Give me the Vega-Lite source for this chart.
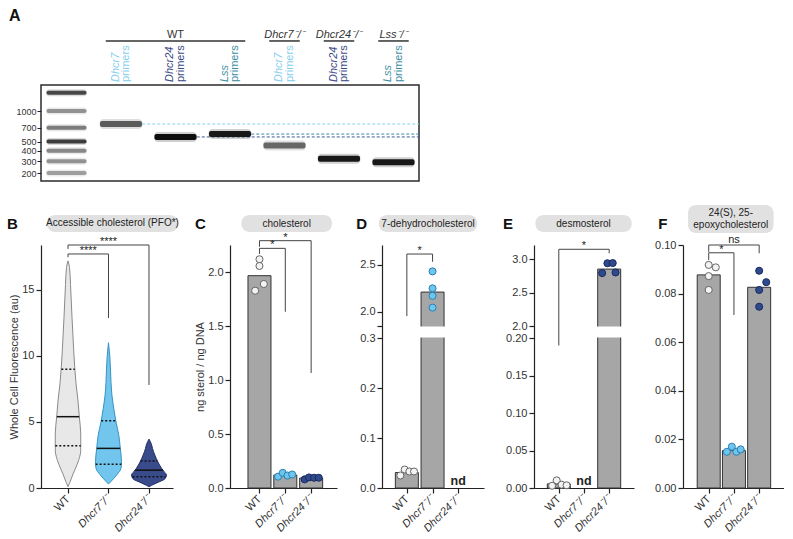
{
  "$schema": "https://vega.github.io/schema/vega-lite/v6.json",
  "padding": {"left": 7, "top": 0, "right": 0, "bottom": 0},
  "autosize": {"type": "pad"},
  "background": "white",
  "config": {
    "font": "Liberation Sans",
    "view": {"stroke": null},
    "axis": {
      "grid": false, "domainColor": "#222", "domainWidth": 1.2, "tickColor": "#222", "tickWidth": 1.2, "tickSize": 5,
      "labelFont": "Liberation Sans", "labelFontSize": 11, "labelColor": "#333", "labelPadding": 2,
      "labelFlush": false,
      "titleFont": "Liberation Sans", "titleFontSize": 11, "titleFontWeight": "normal", "titleColor": "#333"
    },
    "text": {"font": "Liberation Sans"}
  },
  "datasets": {
    "panels": [
      {"panel": "A"},
      {"panel": "B", "title": "Accessible cholesterol (PFO*)"},
      {"panel": "C", "title": "cholesterol"},
      {"panel": "D", "title": "7-dehydrocholesterol"},
      {"panel": "E", "title": "desmosterol"},
      {"panel": "F", "title": "24(S), 25-\nepoxycholesterol"}
    ],
    "genotypes": [
      {"geno": "WT", "first": 1, "last": 3, "ko": false},
      {"geno": "Dhcr7⁻/⁻", "first": 4, "last": 4, "ko": true},
      {"geno": "Dhcr24⁻/⁻", "first": 5, "last": 5, "ko": true},
      {"geno": "Lss⁻/⁻", "first": 6, "last": 6, "ko": true}
    ],
    "primers": [
      {"lane": 1, "gene": "Dhcr7"}, {"lane": 2, "gene": "Dhcr24"}, {"lane": 3, "gene": "Lss"},
      {"lane": 4, "gene": "Dhcr7"}, {"lane": 5, "gene": "Dhcr24"}, {"lane": 6, "gene": "Lss"}
    ],
    "gel": [
      {"lane": 0, "bp": 1500, "intensity": 0.7},
      {"lane": 0, "bp": 1000, "intensity": 0.35},
      {"lane": 0, "bp": 700, "intensity": 0.45},
      {"lane": 0, "bp": 500, "intensity": 0.75},
      {"lane": 0, "bp": 400, "intensity": 0.4},
      {"lane": 0, "bp": 300, "intensity": 0.35},
      {"lane": 0, "bp": 200, "intensity": 0.3},
      {"lane": 1, "bp": 766, "intensity": 0.6},
      {"lane": 2, "bp": 566, "intensity": 1.0},
      {"lane": 3, "bp": 608, "intensity": 0.95},
      {"lane": 4, "bp": 457, "intensity": 0.55},
      {"lane": 5, "bp": 325, "intensity": 0.95},
      {"lane": 6, "bp": 291, "intensity": 0.95}
    ],
    "violin": [
      {"geno": "WT", "v": 0.1, "hw": 0}, {"geno": "WT", "v": 0.4, "hw": 0.042}, {"geno": "WT", "v": 1.05, "hw": 0.123},
      {"geno": "WT", "v": 1.8, "hw": 0.227}, {"geno": "WT", "v": 2.85, "hw": 0.314}, {"geno": "WT", "v": 4.1, "hw": 0.314},
      {"geno": "WT", "v": 5.4, "hw": 0.279}, {"geno": "WT", "v": 6.6, "hw": 0.247}, {"geno": "WT", "v": 7.9, "hw": 0.198},
      {"geno": "WT", "v": 10.4, "hw": 0.141}, {"geno": "WT", "v": 12.9, "hw": 0.099}, {"geno": "WT", "v": 15.4, "hw": 0.062},
      {"geno": "WT", "v": 16.7, "hw": 0.037}, {"geno": "WT", "v": 17.2, "hw": 0},
      {"geno": "Dhcr7-/-", "v": 0.3, "hw": 0}, {"geno": "Dhcr7-/-", "v": 0.5, "hw": 0.062}, {"geno": "Dhcr7-/-", "v": 1.0, "hw": 0.205},
      {"geno": "Dhcr7-/-", "v": 1.5, "hw": 0.309}, {"geno": "Dhcr7-/-", "v": 2.0, "hw": 0.321}, {"geno": "Dhcr7-/-", "v": 3.0, "hw": 0.291},
      {"geno": "Dhcr7-/-", "v": 4.0, "hw": 0.254}, {"geno": "Dhcr7-/-", "v": 5.0, "hw": 0.185}, {"geno": "Dhcr7-/-", "v": 6.0, "hw": 0.131},
      {"geno": "Dhcr7-/-", "v": 7.0, "hw": 0.086}, {"geno": "Dhcr7-/-", "v": 8.0, "hw": 0.062}, {"geno": "Dhcr7-/-", "v": 9.0, "hw": 0.049},
      {"geno": "Dhcr7-/-", "v": 10.0, "hw": 0.032}, {"geno": "Dhcr7-/-", "v": 11.0, "hw": 0},
      {"geno": "Dhcr24-/-", "v": 0.1, "hw": 0}, {"geno": "Dhcr24-/-", "v": 0.2, "hw": 0.062}, {"geno": "Dhcr24-/-", "v": 0.4, "hw": 0.198},
      {"geno": "Dhcr24-/-", "v": 0.7, "hw": 0.395}, {"geno": "Dhcr24-/-", "v": 1.0, "hw": 0.432}, {"geno": "Dhcr24-/-", "v": 1.2, "hw": 0.383},
      {"geno": "Dhcr24-/-", "v": 1.5, "hw": 0.309}, {"geno": "Dhcr24-/-", "v": 2.0, "hw": 0.215}, {"geno": "Dhcr24-/-", "v": 2.5, "hw": 0.143},
      {"geno": "Dhcr24-/-", "v": 3.0, "hw": 0.086}, {"geno": "Dhcr24-/-", "v": 3.3, "hw": 0.062}, {"geno": "Dhcr24-/-", "v": 3.7, "hw": 0}
    ],
    "quartiles": [
      {"geno": "WT", "stat": "q3", "v": 9.0, "hw": 0.165},
      {"geno": "WT", "stat": "median", "v": 5.4, "hw": 0.279},
      {"geno": "WT", "stat": "q1", "v": 3.2, "hw": 0.314},
      {"geno": "Dhcr7-/-", "stat": "q3", "v": 5.1, "hw": 0.18},
      {"geno": "Dhcr7-/-", "stat": "median", "v": 3.0, "hw": 0.291},
      {"geno": "Dhcr7-/-", "stat": "q1", "v": 1.8, "hw": 0.318},
      {"geno": "Dhcr24-/-", "stat": "q3", "v": 2.05, "hw": 0.208},
      {"geno": "Dhcr24-/-", "stat": "median", "v": 1.35, "hw": 0.34},
      {"geno": "Dhcr24-/-", "stat": "q1", "v": 0.85, "hw": 0.41}
    ],
    "brackets": [
      {"panel": "B", "from": "WT", "to": "Dhcr7-/-", "y": 17.72, "e1": 17.47, "e2": 12.87, "label": "****"},
      {"panel": "B", "from": "WT", "to": "Dhcr24-/-", "y": 18.4, "e1": 18.1, "e2": 7.8, "label": "****"},
      {"panel": "C", "from": "WT", "to": "Dhcr7-/-", "y": 2.219, "e1": 2.167, "e2": 1.632, "label": "*"},
      {"panel": "C", "from": "WT", "to": "Dhcr24-/-", "y": 2.29, "e1": 2.234, "e2": 1.065, "label": "*"},
      {"panel": "D", "from": "WT", "to": "Dhcr7-/-", "y": 2.614, "e1": 1.955, "e2": 2.532, "label": "*"},
      {"panel": "E", "from": "WT", "to": "Dhcr24-/-", "y": 3.146, "e1": 0.19, "e2": 3.086, "label": "*"},
      {"panel": "F", "from": "WT", "to": "Dhcr24-/-", "y": 0.1, "e1": 0.0972, "e2": 0.0966, "label": "ns"},
      {"panel": "F", "from": "WT", "to": "Dhcr7-/-", "y": 0.0968, "e1": 0.0938, "e2": 0.0712, "label": "*"}
    ],
    "bars": [
      {"panel": "C", "geno": "WT", "value": 1.966}, {"panel": "C", "geno": "Dhcr7-/-", "value": 0.12}, {"panel": "C", "geno": "Dhcr24-/-", "value": 0.092},
      {"panel": "D", "geno": "WT", "value": 0.031}, {"panel": "D", "geno": "Dhcr7-/-", "value": 2.21},
      {"panel": "E", "geno": "WT", "value": 0.0055}, {"panel": "E", "geno": "Dhcr24-/-", "value": 2.85},
      {"panel": "F", "geno": "WT", "value": 0.0877}, {"panel": "F", "geno": "Dhcr7-/-", "value": 0.0154}, {"panel": "F", "geno": "Dhcr24-/-", "value": 0.0826}
    ],
    "points": [
      {"panel": "C", "geno": "WT", "value": 2.118, "jit": 0}, {"panel": "C", "geno": "WT", "value": 2.056, "jit": 0},
      {"panel": "C", "geno": "WT", "value": 1.889, "jit": 0.6}, {"panel": "C", "geno": "WT", "value": 1.827, "jit": -0.6},
      {"panel": "C", "geno": "Dhcr7-/-", "value": 0.105, "jit": -1}, {"panel": "C", "geno": "Dhcr7-/-", "value": 0.14, "jit": -0.35},
      {"panel": "C", "geno": "Dhcr7-/-", "value": 0.115, "jit": 0.3}, {"panel": "C", "geno": "Dhcr7-/-", "value": 0.125, "jit": 0.95},
      {"panel": "C", "geno": "Dhcr24-/-", "value": 0.08, "jit": -0.9}, {"panel": "C", "geno": "Dhcr24-/-", "value": 0.098, "jit": -0.3},
      {"panel": "C", "geno": "Dhcr24-/-", "value": 0.095, "jit": 0.4}, {"panel": "C", "geno": "Dhcr24-/-", "value": 0.095, "jit": 1.05},
      {"panel": "D", "geno": "WT", "value": 0.025, "jit": -0.9}, {"panel": "D", "geno": "WT", "value": 0.037, "jit": -0.3},
      {"panel": "D", "geno": "WT", "value": 0.033, "jit": 0.35}, {"panel": "D", "geno": "WT", "value": 0.033, "jit": 1.0},
      {"panel": "D", "geno": "Dhcr7-/-", "value": 2.43, "jit": 0}, {"panel": "D", "geno": "Dhcr7-/-", "value": 2.25, "jit": 0},
      {"panel": "D", "geno": "Dhcr7-/-", "value": 2.17, "jit": 0}, {"panel": "D", "geno": "Dhcr7-/-", "value": 2.045, "jit": 0},
      {"panel": "E", "geno": "WT", "value": 0.003, "jit": -0.95}, {"panel": "E", "geno": "WT", "value": 0.0102, "jit": -0.3},
      {"panel": "E", "geno": "WT", "value": 0.0044, "jit": 0.4}, {"panel": "E", "geno": "WT", "value": 0.0036, "jit": 1.1},
      {"panel": "E", "geno": "Dhcr24-/-", "value": 2.937, "jit": -0.25}, {"panel": "E", "geno": "Dhcr24-/-", "value": 2.94, "jit": 0.5},
      {"panel": "E", "geno": "Dhcr24-/-", "value": 2.79, "jit": -1.0}, {"panel": "E", "geno": "Dhcr24-/-", "value": 2.8, "jit": 0.9},
      {"panel": "F", "geno": "WT", "value": 0.0918, "jit": 0}, {"panel": "F", "geno": "WT", "value": 0.0908, "jit": 1.0},
      {"panel": "F", "geno": "WT", "value": 0.0872, "jit": 0}, {"panel": "F", "geno": "WT", "value": 0.0815, "jit": 0},
      {"panel": "F", "geno": "Dhcr7-/-", "value": 0.0149, "jit": -1.0}, {"panel": "F", "geno": "Dhcr7-/-", "value": 0.017, "jit": -0.3},
      {"panel": "F", "geno": "Dhcr7-/-", "value": 0.0149, "jit": 0.35}, {"panel": "F", "geno": "Dhcr7-/-", "value": 0.0159, "jit": 0.95},
      {"panel": "F", "geno": "Dhcr24-/-", "value": 0.0894, "jit": 0}, {"panel": "F", "geno": "Dhcr24-/-", "value": 0.0847, "jit": 1.0},
      {"panel": "F", "geno": "Dhcr24-/-", "value": 0.0815, "jit": 0}, {"panel": "F", "geno": "Dhcr24-/-", "value": 0.0746, "jit": 0}
    ],
    "nd": [
      {"panel": "D", "geno": "Dhcr24-/-", "label": "nd"},
      {"panel": "E", "geno": "Dhcr7-/-", "label": "nd"}
    ]
  },
  "spacing": 0,
  "align": "none",
  "bounds": "flush",
  "resolve": {"scale": {"color": "independent", "fill": "independent", "stroke": "independent"}},
  "vconcat": [
    {
      "width": 378, "height": 85,
      "layer": [
        {
          "data": {"name": "panels"}, "transform": [{"filter": "datum.panel == 'A'"}],
          "mark": {"type": "text", "fontSize": 16, "fontWeight": "bold", "align": "left", "baseline": "alphabetic", "color": "#111"},
          "encoding": {
            "x": {"datum": -1.055, "type": "quantitative", "scale": {"domain": [-0.468, 6.468], "nice": false, "zero": false}, "axis": null},
            "y": {"datum": 0.753, "type": "quantitative", "scale": {"domain": [0, 1], "nice": false, "zero": false}, "axis": null},
            "text": {"field": "panel"}
          }
        },
        {
          "data": {"name": "genotypes"},
          "transform": [
            {"calculate": "(datum.first + datum.last) / 2", "as": "mid"},
            {"calculate": "datum.first - 0.28", "as": "lo"},
            {"calculate": "datum.last + 0.28", "as": "hi"}
          ],
          "layer": [
            {
              "mark": {"type": "rule", "color": "#333", "strokeWidth": 1.5},
              "encoding": {
                "x": {"field": "lo", "type": "quantitative", "axis": null},
                "x2": {"field": "hi"},
                "y": {"datum": 0.518, "type": "quantitative", "axis": null}
              }
            },
            {
              "transform": [{"filter": "!datum.ko"}],
              "mark": {"type": "text", "fontSize": 11, "baseline": "alphabetic", "color": "#333"},
              "encoding": {
                "x": {"field": "mid", "type": "quantitative", "axis": null},
                "y": {"datum": 0.556, "type": "quantitative", "axis": null},
                "text": {"field": "geno"}
              }
            },
            {
              "transform": [{"filter": "datum.ko"}],
              "mark": {"type": "text", "fontSize": 11, "fontStyle": "italic", "baseline": "alphabetic", "color": "#333"},
              "encoding": {
                "x": {"field": "mid", "type": "quantitative", "axis": null},
                "y": {"datum": 0.556, "type": "quantitative", "axis": null},
                "text": {"field": "geno"}
              }
            }
          ]
        },
        {
          "data": {"name": "primers"},
          "transform": [
            {"calculate": "datum.lane - 0.1", "as": "gx"},
            {"calculate": "datum.lane + 0.1", "as": "px"}
          ],
          "layer": [
            {
              "mark": {"type": "text", "fontSize": 11, "fontStyle": "italic", "angle": 270, "align": "left", "baseline": "middle"},
              "encoding": {
                "x": {"field": "gx", "type": "quantitative", "axis": null},
                "y": {"datum": 0.035, "type": "quantitative", "axis": null},
                "text": {"field": "gene"},
                "color": {"field": "gene", "type": "nominal", "scale": {"domain": ["Dhcr7", "Dhcr24", "Lss"], "range": ["#86cfee", "#3b4a86", "#3a8ea1"]}, "legend": null}
              }
            },
            {
              "mark": {"type": "text", "fontSize": 11, "angle": 270, "align": "left", "baseline": "middle"},
              "encoding": {
                "x": {"field": "px", "type": "quantitative", "axis": null},
                "y": {"datum": 0.035, "type": "quantitative", "axis": null},
                "text": {"value": "primers"},
                "color": {"field": "gene", "type": "nominal", "scale": {"domain": ["Dhcr7", "Dhcr24", "Lss"], "range": ["#86cfee", "#3b4a86", "#3a8ea1"]}, "legend": null}
              }
            }
          ]
        }
      ]
    },
    {
      "width": 378, "height": 96,
      "view": {"stroke": "#2b2b2b", "strokeWidth": 1.5},
      "data": {"name": "gel"},
      "layer": [
        {
          "transform": [{"filter": "datum.lane >= 1 && datum.lane <= 3"}, {"calculate": "datum.lane + 0.39", "as": "x0"}],
          "mark": {"type": "rule", "strokeDash": [3, 2], "strokeWidth": 1},
          "encoding": {
            "x": {"field": "x0", "type": "quantitative", "scale": {"domain": [-0.468, 6.468], "nice": false, "zero": false}, "axis": null},
            "x2": {"datum": 6.468},
            "y": {"field": "bp", "type": "quantitative",
                  "scale": {"type": "linear", "domain": [150, 200, 300, 400, 500, 700, 1000, 1500, 2000], "range": [96, 88, 76.3, 65.8, 56.5, 42.7, 26, 7.7, 0], "nice": false, "zero": false},
                  "axis": {"values": [200, 300, 400, 500, 700, 1000], "format": "d", "tickCount": 20, "domain": false, "tickSize": 4, "tickWidth": 1, "labelPadding": 1, "title": null, "labelFontSize": 9, "labelOverlap": false, "labelBound": false}},
            "stroke": {"field": "lane", "type": "nominal", "scale": {"domain": [1, 2, 3], "range": ["#86cfee", "#3d5b93", "#3f86a6"]}, "legend": null}
          }
        },
        {
          "transform": [{"filter": "datum.lane == 0"}],
          "mark": {"type": "tick", "orient": "horizontal", "size": 41, "thickness": 7, "opacity": 0.2, "cornerRadius": 3},
          "encoding": {
            "x": {"field": "lane", "type": "quantitative"},
            "y": {"field": "bp", "type": "quantitative"},
            "color": {"field": "intensity", "type": "quantitative", "scale": {"domain": [0, 1], "range": ["#e6e6e6", "#0d0d0d"]}, "legend": null}
          }
        },
        {
          "transform": [{"filter": "datum.lane == 0"}],
          "mark": {"type": "tick", "orient": "horizontal", "size": 40, "thickness": 4, "opacity": 1, "cornerRadius": 2},
          "encoding": {
            "x": {"field": "lane", "type": "quantitative"},
            "y": {"field": "bp", "type": "quantitative"},
            "color": {"field": "intensity", "type": "quantitative", "legend": null}
          }
        },
        {
          "transform": [{"filter": "datum.lane > 0"}],
          "mark": {"type": "tick", "orient": "horizontal", "size": 43, "thickness": 10, "opacity": 0.2, "cornerRadius": 4},
          "encoding": {
            "x": {"field": "lane", "type": "quantitative"},
            "y": {"field": "bp", "type": "quantitative"},
            "color": {"field": "intensity", "type": "quantitative", "legend": null}
          }
        },
        {
          "transform": [{"filter": "datum.lane > 0"}],
          "mark": {"type": "tick", "orient": "horizontal", "size": 42, "thickness": 6, "opacity": 1, "cornerRadius": 2},
          "encoding": {
            "x": {"field": "lane", "type": "quantitative"},
            "y": {"field": "bp", "type": "quantitative"},
            "color": {"field": "intensity", "type": "quantitative", "legend": null}
          }
        }
      ]
    },
    {"width": 1, "height": 64, "data": {"values": []}, "mark": "point"},
    {
      "spacing": 0,
      "align": "none",
      "bounds": "flush",
      "resolve": {"scale": {"color": "independent", "fill": "independent", "stroke": "independent"}},
      "hconcat": [
        {
          "width": 132, "height": 243,
          "layer": [
            {
              "data": {"name": "violin"},
              "transform": [
                {"calculate": "indexof(['WT','Dhcr7-/-','Dhcr24-/-'], datum.geno) + 1", "as": "g"},
                {"calculate": "datum.g - datum.hw", "as": "lo"},
                {"calculate": "datum.g + datum.hw", "as": "hi"}
              ],
              "mark": {"type": "area", "orient": "horizontal", "interpolate": "monotone", "strokeWidth": 1, "fillOpacity": 1, "opacity": 1},
              "encoding": {
                "y": {"field": "v", "type": "quantitative", "scale": {"domain": [0, 18.4], "nice": false, "zero": false},
                      "axis": {"values": [0, 5, 10, 15], "tickCount": 20, "title": "Whole Cell Fluorescence (au)", "titlePadding": 2, "labelOverlap": false}},
                "x": {"field": "lo", "type": "quantitative", "stack": null, "scale": {"domain": [0.333, 3.593], "nice": false, "zero": false},
                      "axis": {"values": [1, 2, 3], "tickCount": 20, "title": null, "labelAngle": -45, "labelAlign": "right", "labelBaseline": "middle", "labelPadding": 4, "labelOverlap": false,
                               "labelExpr": "datum.value == 1 ? 'WT' : datum.value == 2 ? 'Dhcr7⁻/⁻' : 'Dhcr24⁻/⁻'",
                               "labelFontStyle": {"condition": {"test": "datum.value == 1", "value": "normal"}, "value": "italic"}}},
                "x2": {"field": "hi"},
                "color": {"field": "geno", "type": "nominal", "scale": {"domain": ["WT", "Dhcr7-/-", "Dhcr24-/-"], "range": ["#e8e8e8", "#72c6ee", "#3a4b8c"]}, "legend": null},
                "stroke": {"field": "geno", "type": "nominal", "scale": {"domain": ["WT", "Dhcr7-/-", "Dhcr24-/-"], "range": ["#8a8a8a", "#3593c4", "#1d2b63"]}, "legend": null}
              }
            },
            {
              "data": {"name": "quartiles"},
              "transform": [
                {"calculate": "indexof(['WT','Dhcr7-/-','Dhcr24-/-'], datum.geno) + 1", "as": "g"},
                {"calculate": "datum.g - datum.hw", "as": "lo"},
                {"calculate": "datum.g + datum.hw", "as": "hi"}
              ],
              "layer": [
                {
                  "transform": [{"filter": "datum.stat == 'median'"}],
                  "mark": {"type": "rule", "color": "#111", "strokeWidth": 1.5},
                  "encoding": {"x": {"field": "lo", "type": "quantitative"}, "x2": {"field": "hi"}, "y": {"field": "v", "type": "quantitative"}}
                },
                {
                  "transform": [{"filter": "datum.stat != 'median'"}],
                  "mark": {"type": "rule", "color": "#111", "strokeWidth": 1.5, "strokeDash": [2, 2]},
                  "encoding": {"x": {"field": "lo", "type": "quantitative"}, "x2": {"field": "hi"}, "y": {"field": "v", "type": "quantitative"}}
                }
              ]
            },
            {
              "data": {"name": "brackets"},
              "transform": [
                {"filter": "datum.panel == 'B'"},
                {"calculate": "indexof(['WT','Dhcr7-/-','Dhcr24-/-'], datum.from) + 1", "as": "a"},
                {"calculate": "indexof(['WT','Dhcr7-/-','Dhcr24-/-'], datum.to) + 1", "as": "b"},
                {"calculate": "(datum.a + datum.b) / 2", "as": "m"}
              ],
              "layer": [
                {"mark": {"type": "rule", "color": "#444", "strokeWidth": 1}, "encoding": {"x": {"field": "a", "type": "quantitative"}, "x2": {"field": "b"}, "y": {"field": "y", "type": "quantitative"}}},
                {"mark": {"type": "rule", "color": "#444", "strokeWidth": 1}, "encoding": {"x": {"field": "a", "type": "quantitative"}, "y": {"field": "y", "type": "quantitative"}, "y2": {"field": "e1"}}},
                {"mark": {"type": "rule", "color": "#444", "strokeWidth": 1}, "encoding": {"x": {"field": "b", "type": "quantitative"}, "y": {"field": "y", "type": "quantitative"}, "y2": {"field": "e2"}}},
                {"mark": {"type": "text", "fontSize": 11, "baseline": "alphabetic", "color": "#222"}, "encoding": {"x": {"field": "m", "type": "quantitative"}, "y": {"field": "y", "type": "quantitative"}, "text": {"field": "label"}}}
              ]
            },
            {
              "data": {"name": "panels"},
              "transform": [{"filter": "datum.panel == 'B'"}],
              "layer": [
                {"mark": {"type": "rect", "cornerRadius": 8, "fill": "#e1e1e1"}, "encoding": {"x": {"datum": 0.481}, "x2": {"datum": 3.716}, "y": {"datum": 19.385}, "y2": {"datum": 20.67}}},
                {"mark": {"type": "text", "fontSize": 10, "color": "#222", "align": "center", "baseline": "middle"}, "encoding": {"x": {"datum": 2.098}, "y": {"datum": 20.03}, "text": {"field": "title"}}},
                {"mark": {"type": "text", "fontSize": 15, "fontWeight": "bold", "align": "left", "baseline": "alphabetic", "color": "#111"}, "encoding": {"x": {"datum": -0.5065}, "y": {"datum": 19.61}, "text": {"field": "panel"}}}
              ]
            }
          ]
        },
        {"width": 57, "height": 10, "data": {"values": []}, "mark": "point"},
        {
          "width": 107, "height": 243,
          "layer": [
            {
              "data": {"name": "bars"},
              "transform": [{"filter": "datum.panel == 'C'"}, {"calculate": "indexof(['WT','Dhcr7-/-','Dhcr24-/-'], datum.geno) + 1", "as": "g"}],
              "mark": {"type": "bar", "width": 23, "orient": "vertical", "fill": "#a6a6a6", "stroke": "#333", "strokeWidth": 1},
              "encoding": {
                "x": {"field": "g", "type": "quantitative", "scale": {"domain": [0.053, 3.807], "nice": false, "zero": false},
                      "axis": {"values": [1, 2, 3], "tickCount": 20, "title": null, "labelAngle": -45, "labelAlign": "right", "labelBaseline": "middle", "labelPadding": 4, "labelOverlap": false,
                               "labelExpr": "datum.value == 1 ? 'WT' : datum.value == 2 ? 'Dhcr7⁻/⁻' : 'Dhcr24⁻/⁻'",
                               "labelFontStyle": {"condition": {"test": "datum.value == 1", "value": "normal"}, "value": "italic"}}},
                "y": {"field": "value", "type": "quantitative", "scale": {"domain": [0, 2.25], "nice": false, "zero": false},
                      "axis": {"values": [0, 0.5, 1, 1.5, 2], "tickCount": 20, "format": ".1f", "title": "ng sterol / ng DNA", "titlePadding": 2, "labelOverlap": false}},
                "y2": {"datum": 0}
              }
            },
            {
              "data": {"name": "points"},
              "transform": [{"filter": "datum.panel == 'C'"}, {"calculate": "indexof(['WT','Dhcr7-/-','Dhcr24-/-'], datum.geno) + 1", "as": "g"}, {"calculate": "datum.g + datum.jit * 0.28", "as": "px"}],
              "mark": {"type": "circle", "size": 50, "strokeWidth": 1, "opacity": 1, "fillOpacity": 1},
              "encoding": {
                "x": {"field": "px", "type": "quantitative"},
                "y": {"field": "value", "type": "quantitative"},
                "fill": {"field": "geno", "type": "nominal", "scale": {"domain": ["WT", "Dhcr7-/-", "Dhcr24-/-"], "range": ["#f3f3f3", "#6cc6ee", "#2e4a8c"]}, "legend": null},
                "stroke": {"field": "geno", "type": "nominal", "scale": {"domain": ["WT", "Dhcr7-/-", "Dhcr24-/-"], "range": ["#666666", "#2f7fb0", "#1a2a5e"]}, "legend": null}
              }
            },
            {
              "data": {"name": "brackets"},
              "transform": [
                {"filter": "datum.panel == 'C'"},
                {"calculate": "indexof(['WT','Dhcr7-/-','Dhcr24-/-'], datum.from) + 1", "as": "a"},
                {"calculate": "indexof(['WT','Dhcr7-/-','Dhcr24-/-'], datum.to) + 1", "as": "b"},
                {"calculate": "(datum.a + datum.b) / 2", "as": "m"}
              ],
              "layer": [
                {"mark": {"type": "rule", "color": "#444", "strokeWidth": 1}, "encoding": {"x": {"field": "a", "type": "quantitative"}, "x2": {"field": "b"}, "y": {"field": "y", "type": "quantitative"}}},
                {"mark": {"type": "rule", "color": "#444", "strokeWidth": 1}, "encoding": {"x": {"field": "a", "type": "quantitative"}, "y": {"field": "y", "type": "quantitative"}, "y2": {"field": "e1"}}},
                {"mark": {"type": "rule", "color": "#444", "strokeWidth": 1}, "encoding": {"x": {"field": "b", "type": "quantitative"}, "y": {"field": "y", "type": "quantitative"}, "y2": {"field": "e2"}}},
                {"mark": {"type": "text", "fontSize": 11, "baseline": "alphabetic", "color": "#222"}, "encoding": {"x": {"field": "m", "type": "quantitative"}, "y": {"field": "y", "type": "quantitative"}, "text": {"field": "label"}}}
              ]
            },
            {
              "data": {"name": "panels"},
              "transform": [{"filter": "datum.panel == 'C'"}],
              "layer": [
                {"mark": {"type": "rect", "cornerRadius": 8, "fill": "#e1e1e1"}, "encoding": {"x": {"datum": 0.299}, "x2": {"datum": 3.807}, "y": {"datum": 2.37}, "y2": {"datum": 2.528}}},
                {"mark": {"type": "text", "fontSize": 10, "color": "#222", "align": "center", "baseline": "middle"}, "encoding": {"x": {"datum": 2.053}, "y": {"datum": 2.449}, "text": {"field": "title"}}},
                {"mark": {"type": "text", "fontSize": 15, "fontWeight": "bold", "align": "left", "baseline": "alphabetic", "color": "#111"}, "encoding": {"x": {"datum": -1.491}, "y": {"datum": 2.398}, "text": {"field": "panel"}}}
              ]
            }
          ]
        },
        {"width": 45, "height": 10, "data": {"values": []}, "mark": "point"},
        {
          "width": 102, "height": 243,
          "layer": [
            {
              "data": {"name": "bars"},
              "transform": [{"filter": "datum.panel == 'D'"}, {"calculate": "indexof(['WT','Dhcr7-/-','Dhcr24-/-'], datum.geno) + 1", "as": "g"}],
              "mark": {"type": "bar", "width": 23, "orient": "vertical", "fill": "#a6a6a6", "stroke": "#333", "strokeWidth": 1},
              "encoding": {
                "x": {"field": "g", "type": "quantitative", "scale": {"domain": [0.228, 3.807], "nice": false, "zero": false},
                      "axis": {"values": [1, 2, 3], "tickCount": 20, "title": null, "labelAngle": -45, "labelAlign": "right", "labelBaseline": "middle", "labelPadding": 4, "labelOverlap": false,
                               "labelExpr": "datum.value == 1 ? 'WT' : datum.value == 2 ? 'Dhcr7⁻/⁻' : 'Dhcr24⁻/⁻'",
                               "labelFontStyle": {"condition": {"test": "datum.value == 1", "value": "normal"}, "value": "italic"}}},
                "y": {"field": "value", "type": "quantitative",
                      "scale": {"type": "linear", "domain": [0, 0.3, 1.85, 2.71], "range": [243, 93, 81, 0], "nice": false, "zero": false},
                      "axis": {"values": [0, 0.1, 0.2, 0.3, 1.85, 2, 2.5], "tickCount": 20, "labelExpr": "datum.value == 1.85 ? '' : format(datum.value, '.1f')", "title": null, "labelOverlap": false}},
                "y2": {"datum": 0}
              }
            },
            {
              "data": {"name": "panels"},
              "transform": [{"filter": "datum.panel == 'D'"}],
              "mark": {"type": "rect", "fill": "white"},
              "encoding": {"x": {"datum": 0.12}, "x2": {"datum": 3.9}, "y": {"datum": 0.37}, "y2": {"datum": 1.78}}
            },
            {
              "data": {"name": "points"},
              "transform": [{"filter": "datum.panel == 'D'"}, {"calculate": "indexof(['WT','Dhcr7-/-','Dhcr24-/-'], datum.geno) + 1", "as": "g"}, {"calculate": "datum.g + datum.jit * 0.28", "as": "px"}],
              "mark": {"type": "circle", "size": 50, "strokeWidth": 1, "opacity": 1, "fillOpacity": 1},
              "encoding": {
                "x": {"field": "px", "type": "quantitative"},
                "y": {"field": "value", "type": "quantitative"},
                "fill": {"field": "geno", "type": "nominal", "scale": {"domain": ["WT", "Dhcr7-/-", "Dhcr24-/-"], "range": ["#f3f3f3", "#6cc6ee", "#2e4a8c"]}, "legend": null},
                "stroke": {"field": "geno", "type": "nominal", "scale": {"domain": ["WT", "Dhcr7-/-", "Dhcr24-/-"], "range": ["#666666", "#2f7fb0", "#1a2a5e"]}, "legend": null}
              }
            },
            {
              "data": {"name": "nd"},
              "transform": [{"filter": "datum.panel == 'D'"}, {"calculate": "indexof(['WT','Dhcr7-/-','Dhcr24-/-'], datum.geno) + 1", "as": "g"}],
              "mark": {"type": "text", "fontSize": 12.5, "fontWeight": "bold", "baseline": "alphabetic", "dy": -3, "color": "#222"},
              "encoding": {"x": {"field": "g", "type": "quantitative"}, "y": {"datum": 0}, "text": {"field": "label"}}
            },
            {
              "data": {"name": "brackets"},
              "transform": [
                {"filter": "datum.panel == 'D'"},
                {"calculate": "indexof(['WT','Dhcr7-/-','Dhcr24-/-'], datum.from) + 1", "as": "a"},
                {"calculate": "indexof(['WT','Dhcr7-/-','Dhcr24-/-'], datum.to) + 1", "as": "b"},
                {"calculate": "(datum.a + datum.b) / 2", "as": "m"}
              ],
              "layer": [
                {"mark": {"type": "rule", "color": "#444", "strokeWidth": 1}, "encoding": {"x": {"field": "a", "type": "quantitative"}, "x2": {"field": "b"}, "y": {"field": "y", "type": "quantitative"}}},
                {"mark": {"type": "rule", "color": "#444", "strokeWidth": 1}, "encoding": {"x": {"field": "a", "type": "quantitative"}, "y": {"field": "y", "type": "quantitative"}, "y2": {"field": "e1"}}},
                {"mark": {"type": "rule", "color": "#444", "strokeWidth": 1}, "encoding": {"x": {"field": "b", "type": "quantitative"}, "y": {"field": "y", "type": "quantitative"}, "y2": {"field": "e2"}}},
                {"mark": {"type": "text", "fontSize": 11, "baseline": "alphabetic", "color": "#222"}, "encoding": {"x": {"field": "m", "type": "quantitative"}, "y": {"field": "y", "type": "quantitative"}, "text": {"field": "label"}}}
              ]
            },
            {
              "data": {"name": "panels"},
              "transform": [{"filter": "datum.panel == 'D'"}],
              "layer": [
                {"mark": {"type": "rect", "cornerRadius": 8, "fill": "#e1e1e1"}, "encoding": {"x": {"datum": -0.088}, "x2": {"datum": 3.737}, "y": {"datum": 2.848}, "y2": {"datum": 3.0285}}},
                {"mark": {"type": "text", "fontSize": 10, "color": "#222", "align": "center", "baseline": "middle"}, "encoding": {"x": {"datum": 1.825}, "y": {"datum": 2.938}, "text": {"field": "title"}}},
                {"mark": {"type": "text", "fontSize": 15, "fontWeight": "bold", "align": "left", "baseline": "alphabetic", "color": "#111"}, "encoding": {"x": {"datum": -0.965}, "y": {"datum": 2.88}, "text": {"field": "panel"}}}
              ]
            }
          ]
        },
        {"width": 50, "height": 10, "data": {"values": []}, "mark": "point"},
        {
          "width": 100, "height": 243,
          "layer": [
            {
              "data": {"name": "bars"},
              "transform": [{"filter": "datum.panel == 'E'"}, {"calculate": "indexof(['WT','Dhcr7-/-','Dhcr24-/-'], datum.geno) + 1", "as": "g"}],
              "mark": {"type": "bar", "width": 23, "orient": "vertical", "fill": "#a6a6a6", "stroke": "#333", "strokeWidth": 1},
              "encoding": {
                "x": {"field": "g", "type": "quantitative", "scale": {"domain": [0.214, 3.786], "nice": false, "zero": false},
                      "axis": {"values": [1, 2, 3], "tickCount": 20, "title": null, "labelAngle": -45, "labelAlign": "right", "labelBaseline": "middle", "labelPadding": 4, "labelOverlap": false,
                               "labelExpr": "datum.value == 1 ? 'WT' : datum.value == 2 ? 'Dhcr7⁻/⁻' : 'Dhcr24⁻/⁻'",
                               "labelFontStyle": {"condition": {"test": "datum.value == 1", "value": "normal"}, "value": "italic"}}},
                "y": {"field": "value", "type": "quantitative",
                      "scale": {"type": "linear", "domain": [0, 0.2, 2.0, 3.21], "range": [243, 93, 81, 0], "nice": false, "zero": false},
                      "axis": {"values": [0, 0.05, 0.1, 0.15, 0.2, 2, 2.5, 3], "tickCount": 20, "labelExpr": "datum.value >= 1 ? format(datum.value, '.1f') : format(datum.value, '.2f')", "title": null, "labelOverlap": false, "labelBound": false}},
                "y2": {"datum": 0}
              }
            },
            {
              "data": {"name": "panels"},
              "transform": [{"filter": "datum.panel == 'E'"}],
              "mark": {"type": "rect", "fill": "white"},
              "encoding": {"x": {"datum": 0.11}, "x2": {"datum": 3.9}, "y": {"datum": 0.275}, "y2": {"datum": 1.925}}
            },
            {
              "data": {"name": "points"},
              "transform": [{"filter": "datum.panel == 'E'"}, {"calculate": "indexof(['WT','Dhcr7-/-','Dhcr24-/-'], datum.geno) + 1", "as": "g"}, {"calculate": "datum.g + datum.jit * 0.28", "as": "px"}],
              "mark": {"type": "circle", "size": 50, "strokeWidth": 1, "opacity": 1, "fillOpacity": 1},
              "encoding": {
                "x": {"field": "px", "type": "quantitative"},
                "y": {"field": "value", "type": "quantitative"},
                "fill": {"field": "geno", "type": "nominal", "scale": {"domain": ["WT", "Dhcr7-/-", "Dhcr24-/-"], "range": ["#f3f3f3", "#6cc6ee", "#2e4a8c"]}, "legend": null},
                "stroke": {"field": "geno", "type": "nominal", "scale": {"domain": ["WT", "Dhcr7-/-", "Dhcr24-/-"], "range": ["#666666", "#2f7fb0", "#1a2a5e"]}, "legend": null}
              }
            },
            {
              "data": {"name": "nd"},
              "transform": [{"filter": "datum.panel == 'E'"}, {"calculate": "indexof(['WT','Dhcr7-/-','Dhcr24-/-'], datum.geno) + 1", "as": "g"}],
              "mark": {"type": "text", "fontSize": 12.5, "fontWeight": "bold", "baseline": "alphabetic", "dy": -3, "color": "#222"},
              "encoding": {"x": {"field": "g", "type": "quantitative"}, "y": {"datum": 0}, "text": {"field": "label"}}
            },
            {
              "data": {"name": "brackets"},
              "transform": [
                {"filter": "datum.panel == 'E'"},
                {"calculate": "indexof(['WT','Dhcr7-/-','Dhcr24-/-'], datum.from) + 1", "as": "a"},
                {"calculate": "indexof(['WT','Dhcr7-/-','Dhcr24-/-'], datum.to) + 1", "as": "b"},
                {"calculate": "(datum.a + datum.b) / 2", "as": "m"}
              ],
              "layer": [
                {"mark": {"type": "rule", "color": "#444", "strokeWidth": 1}, "encoding": {"x": {"field": "a", "type": "quantitative"}, "x2": {"field": "b"}, "y": {"field": "y", "type": "quantitative"}}},
                {"mark": {"type": "rule", "color": "#444", "strokeWidth": 1}, "encoding": {"x": {"field": "a", "type": "quantitative"}, "y": {"field": "y", "type": "quantitative"}, "y2": {"field": "e1"}}},
                {"mark": {"type": "rule", "color": "#444", "strokeWidth": 1}, "encoding": {"x": {"field": "b", "type": "quantitative"}, "y": {"field": "y", "type": "quantitative"}, "y2": {"field": "e2"}}},
                {"mark": {"type": "text", "fontSize": 11, "baseline": "alphabetic", "color": "#222"}, "encoding": {"x": {"field": "m", "type": "quantitative"}, "y": {"field": "y", "type": "quantitative"}, "text": {"field": "label"}}}
              ]
            },
            {
              "data": {"name": "panels"},
              "transform": [{"filter": "datum.panel == 'E'"}],
              "layer": [
                {"mark": {"type": "rect", "cornerRadius": 8, "fill": "#e1e1e1"}, "encoding": {"x": {"datum": 0.071}, "x2": {"datum": 3.893}, "y": {"datum": 3.404}, "y2": {"datum": 3.658}}},
                {"mark": {"type": "text", "fontSize": 10, "color": "#222", "align": "center", "baseline": "middle"}, "encoding": {"x": {"datum": 1.982}, "y": {"datum": 3.531}, "text": {"field": "title"}}},
                {"mark": {"type": "text", "fontSize": 15, "fontWeight": "bold", "align": "left", "baseline": "alphabetic", "color": "#111"}, "encoding": {"x": {"datum": -1.215}, "y": {"datum": 3.449}, "text": {"field": "panel"}}}
              ]
            }
          ]
        },
        {"width": 49, "height": 10, "data": {"values": []}, "mark": "point"},
        {
          "width": 101, "height": 243,
          "layer": [
            {
              "data": {"name": "bars"},
              "transform": [{"filter": "datum.panel == 'F'"}, {"calculate": "indexof(['WT','Dhcr7-/-','Dhcr24-/-'], datum.geno) + 1", "as": "g"}],
              "mark": {"type": "bar", "width": 23, "orient": "vertical", "fill": "#a6a6a6", "stroke": "#333", "strokeWidth": 1},
              "encoding": {
                "x": {"field": "g", "type": "quantitative", "scale": {"domain": [0.179, 3.786], "nice": false, "zero": false},
                      "axis": {"values": [1, 2, 3], "tickCount": 20, "title": null, "labelAngle": -45, "labelAlign": "right", "labelBaseline": "middle", "labelPadding": 4, "labelOverlap": false,
                               "labelExpr": "datum.value == 1 ? 'WT' : datum.value == 2 ? 'Dhcr7⁻/⁻' : 'Dhcr24⁻/⁻'",
                               "labelFontStyle": {"condition": {"test": "datum.value == 1", "value": "normal"}, "value": "italic"}}},
                "y": {"field": "value", "type": "quantitative", "scale": {"domain": [0, 0.1], "nice": false, "zero": false},
                      "axis": {"values": [0, 0.02, 0.04, 0.06, 0.08, 0.1], "tickCount": 20, "format": ".2f", "title": null, "labelOverlap": false}},
                "y2": {"datum": 0}
              }
            },
            {
              "data": {"name": "points"},
              "transform": [{"filter": "datum.panel == 'F'"}, {"calculate": "indexof(['WT','Dhcr7-/-','Dhcr24-/-'], datum.geno) + 1", "as": "g"}, {"calculate": "datum.g + datum.jit * 0.28", "as": "px"}],
              "mark": {"type": "circle", "size": 50, "strokeWidth": 1, "opacity": 1, "fillOpacity": 1},
              "encoding": {
                "x": {"field": "px", "type": "quantitative"},
                "y": {"field": "value", "type": "quantitative"},
                "fill": {"field": "geno", "type": "nominal", "scale": {"domain": ["WT", "Dhcr7-/-", "Dhcr24-/-"], "range": ["#f3f3f3", "#6cc6ee", "#2e4a8c"]}, "legend": null},
                "stroke": {"field": "geno", "type": "nominal", "scale": {"domain": ["WT", "Dhcr7-/-", "Dhcr24-/-"], "range": ["#666666", "#2f7fb0", "#1a2a5e"]}, "legend": null}
              }
            },
            {
              "data": {"name": "brackets"},
              "transform": [
                {"filter": "datum.panel == 'F'"},
                {"calculate": "indexof(['WT','Dhcr7-/-','Dhcr24-/-'], datum.from) + 1", "as": "a"},
                {"calculate": "indexof(['WT','Dhcr7-/-','Dhcr24-/-'], datum.to) + 1", "as": "b"},
                {"calculate": "(datum.a + datum.b) / 2", "as": "m"}
              ],
              "layer": [
                {"mark": {"type": "rule", "color": "#444", "strokeWidth": 1}, "encoding": {"x": {"field": "a", "type": "quantitative"}, "x2": {"field": "b"}, "y": {"field": "y", "type": "quantitative"}}},
                {"mark": {"type": "rule", "color": "#444", "strokeWidth": 1}, "encoding": {"x": {"field": "a", "type": "quantitative"}, "y": {"field": "y", "type": "quantitative"}, "y2": {"field": "e1"}}},
                {"mark": {"type": "rule", "color": "#444", "strokeWidth": 1}, "encoding": {"x": {"field": "b", "type": "quantitative"}, "y": {"field": "y", "type": "quantitative"}, "y2": {"field": "e2"}}},
                {"transform": [{"filter": "datum.label != 'ns'"}], "mark": {"type": "text", "fontSize": 11, "baseline": "alphabetic", "color": "#222"}, "encoding": {"x": {"field": "m", "type": "quantitative"}, "y": {"field": "y", "type": "quantitative"}, "text": {"field": "label"}}},
                {"transform": [{"filter": "datum.label == 'ns'"}], "mark": {"type": "text", "fontSize": 11, "baseline": "alphabetic", "dy": -2, "color": "#222"}, "encoding": {"x": {"field": "m", "type": "quantitative"}, "y": {"field": "y", "type": "quantitative"}, "text": {"field": "label"}}}
              ]
            },
            {
              "data": {"name": "panels"},
              "transform": [{"filter": "datum.panel == 'F'"}],
              "layer": [
                {"mark": {"type": "rect", "cornerRadius": 8, "fill": "#e1e1e1"}, "encoding": {"x": {"datum": 0.179}, "x2": {"datum": 3.572}, "y": {"datum": 0.10494}, "y2": {"datum": 0.11646}}},
                {"mark": {"type": "text", "fontSize": 10, "color": "#222", "align": "center", "baseline": "middle", "lineBreak": "\n", "lineHeight": 12}, "encoding": {"x": {"datum": 1.875}, "y": {"datum": 0.1132}, "text": {"field": "title"}}},
                {"mark": {"type": "text", "fontSize": 15, "fontWeight": "bold", "align": "left", "baseline": "alphabetic", "color": "#111"}, "encoding": {"x": {"datum": -1.0}, "y": {"datum": 0.10658}, "text": {"field": "panel"}}}
              ]
            }
          ]
        }
      ]
    }
  ]
}
